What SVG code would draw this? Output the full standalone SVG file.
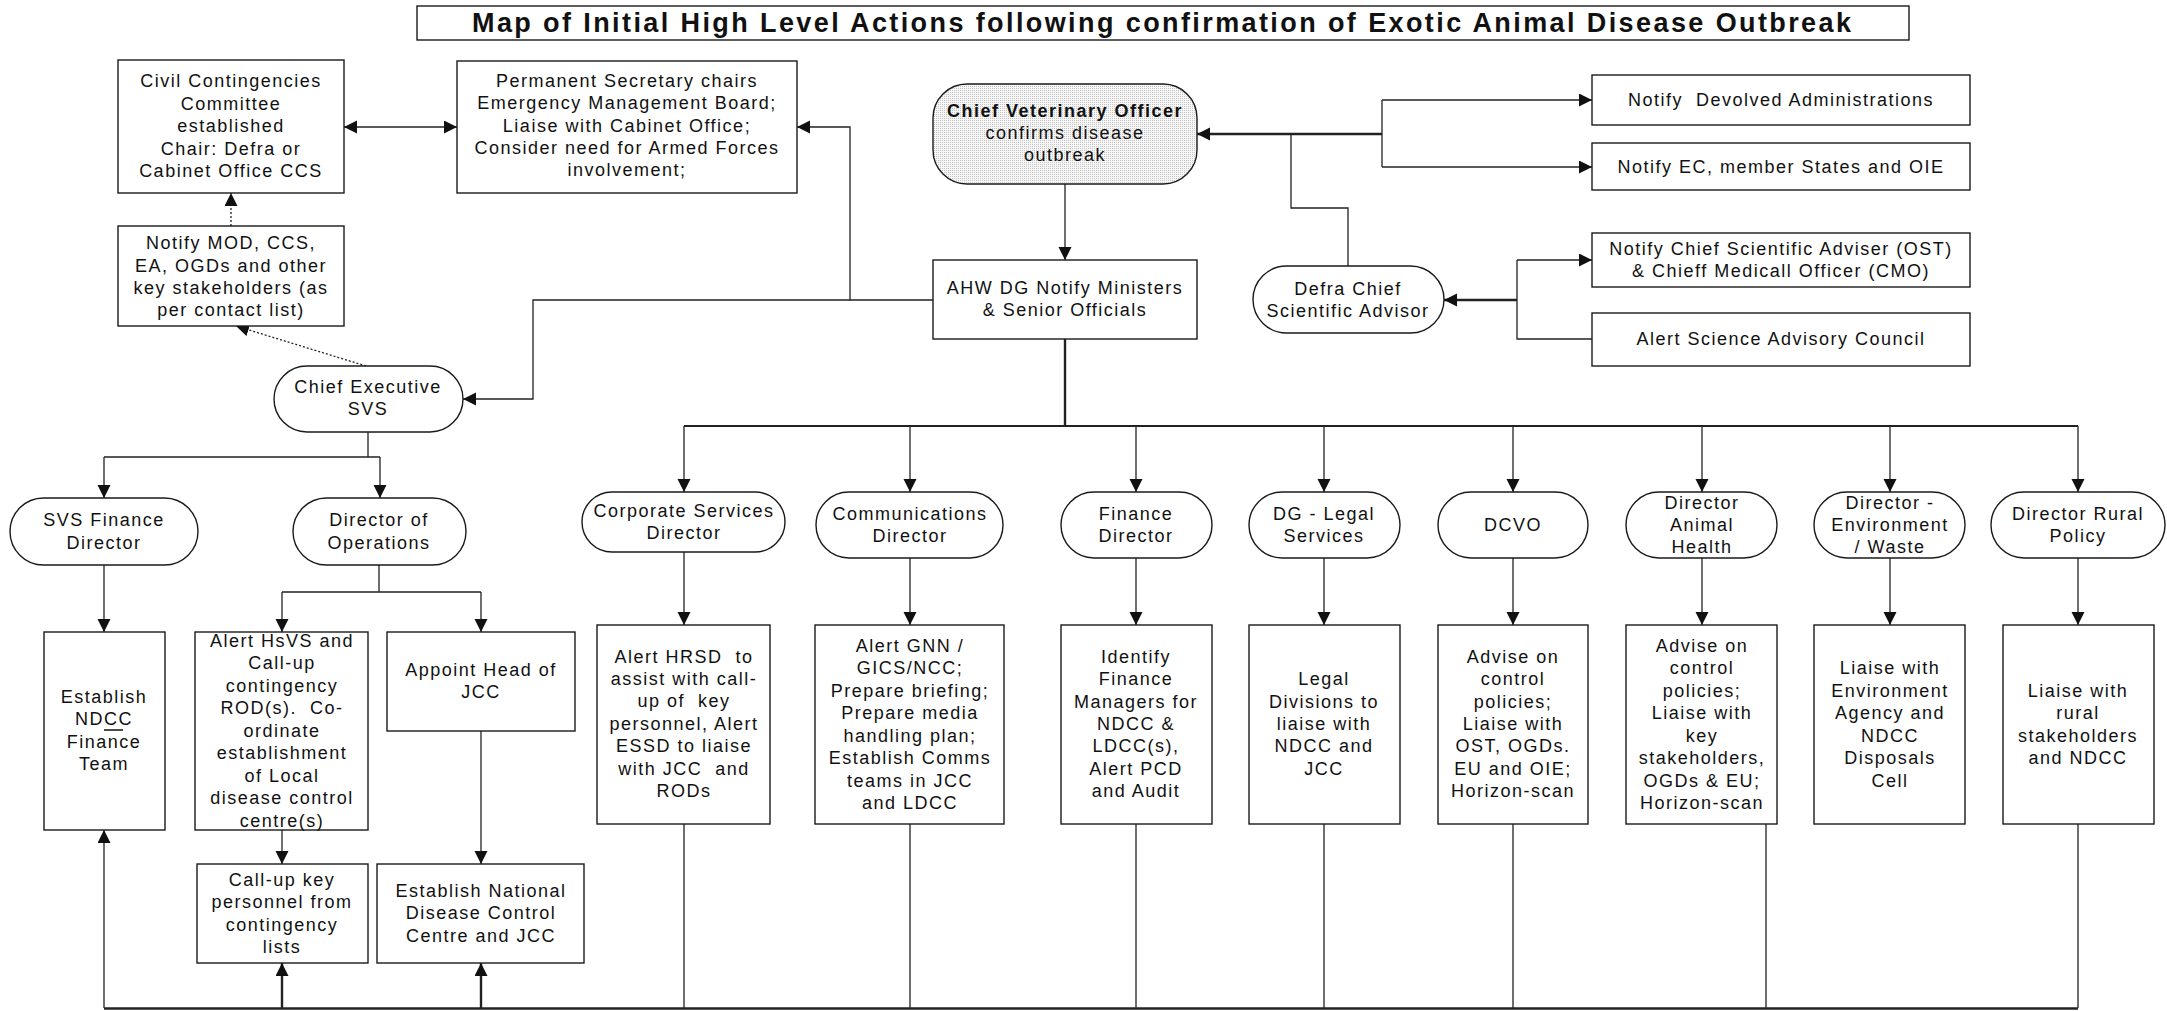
<svg xmlns="http://www.w3.org/2000/svg" width="2167" height="1011" viewBox="0 0 2167 1011">
<style>
.box{fill:#fff;stroke:#1a1a1a;stroke-width:1.4}
.t{font-family:"Liberation Sans",Arial,sans-serif;font-size:18px;letter-spacing:1.5px;fill:#111;text-anchor:middle}
.c{fill:none;stroke:#222;stroke-width:1.3}
.k{stroke-width:2.4}
.d{stroke-dasharray:2 2}
.a{marker-end:url(#ah)}
</style>
<defs>
<marker id="ah" markerWidth="14" markerHeight="14" refX="13" refY="6.5" orient="auto-start-reverse" markerUnits="userSpaceOnUse"><path d="M0,0 L13,6.5 L0,13 z" fill="#111"/></marker>
<pattern id="dots" width="2" height="2" patternUnits="userSpaceOnUse"><rect width="2" height="2" fill="#f7f7f7"/><rect width="1" height="1" fill="#c4c4c4"/></pattern>
</defs>
<rect width="2167" height="1011" fill="#fff"/>

<g id="title"><rect class="box" x="417" y="6" width="1492" height="34"/><text x="472" y="32" style="font-family:'Liberation Sans',Arial,sans-serif;font-size:27px;font-weight:bold;fill:#111" textLength="1379" lengthAdjust="spacing">Map of Initial High Level Actions following confirmation of Exotic Animal Disease Outbreak</text></g>

<g id="connectors">
<path class="c" d="M344,127 L457,127" marker-start="url(#ah)" marker-end="url(#ah)"/>
<path class="c a" d="M933,300 L850,300 L850,127 L797,127"/>
<path class="c a" d="M850,300 L533,300 L533,399 L463,399"/>
<path class="c a" d="M1065,184 L1065,260"/>
<path class="c k a" d="M1382,134 L1197,134"/>
<path class="c" d="M1382,100 L1382,167"/>
<path class="c a" d="M1382,100 L1592,100"/>
<path class="c a" d="M1382,167 L1592,167"/>
<path class="c" d="M1348,266 L1348,208 L1291,208 L1291,134"/>
<path class="c k a" d="M1517,300 L1444,300"/>
<path class="c" d="M1517,260 L1517,339 L1592,339"/>
<path class="c a" d="M1517,260 L1592,260"/>
<path class="c d a" d="M231,226 L231,193"/>
<path class="c d a" d="M366,366 L236,326"/>
<path class="c" d="M368,432 L368,457 M104,457 L380,457"/>
<path class="c a" d="M104,457 L104,498"/>
<path class="c a" d="M380,457 L380,498"/>
<path class="c a" d="M104,565 L104,632"/>
<path class="c" d="M379,565 L379,592 M282,592 L481,592"/>
<path class="c a" d="M282,592 L282,632"/>
<path class="c a" d="M481,592 L481,632"/>
<path class="c a" d="M282,830 L282,864"/>
<path class="c a" d="M481,731 L481,864"/>
<path class="c k" d="M1065,339 L1065,426"/>
<path class="c" style="stroke-width:2" d="M684,426 L2078,426"/>
<path class="c a" d="M684,426 L684,492"/>
<path class="c a" d="M910,426 L910,492"/>
<path class="c a" d="M1136,426 L1136,492"/>
<path class="c a" d="M1324,426 L1324,492"/>
<path class="c a" d="M1513,426 L1513,492"/>
<path class="c a" d="M1702,426 L1702,492"/>
<path class="c a" d="M1890,426 L1890,492"/>
<path class="c a" d="M2078,426 L2078,492"/>
<path class="c a" d="M684,552 L684,625"/>
<path class="c a" d="M910,558 L910,625"/>
<path class="c a" d="M1136,558 L1136,625"/>
<path class="c a" d="M1324,558 L1324,625"/>
<path class="c a" d="M1513,558 L1513,625"/>
<path class="c a" d="M1702,558 L1702,625"/>
<path class="c a" d="M1890,558 L1890,625"/>
<path class="c a" d="M2078,558 L2078,625"/>
<path class="c" d="M684,824 L684,1008 M910,824 L910,1008 M1136,824 L1136,1008 M1324,824 L1324,1008 M1513,824 L1513,1008 M1766,770 L1766,1008 M2078,824 L2078,1008"/>
<path class="c" style="stroke-width:2.6" d="M104,1008.5 L2078,1008.5"/>
<path class="c a" d="M104,1008 L104,830"/>
<path class="c k a" d="M282,1008 L282,963"/>
<path class="c k a" d="M481,1008 L481,963"/>
</g>

<g id="civil"><rect class="box" x="118" y="60" width="226" height="133"/><text class="t"><tspan x="231" y="87">Civil Contingencies</tspan><tspan x="231" y="110">Committee</tspan><tspan x="231" y="132">established</tspan><tspan x="231" y="155">Chair: Defra or</tspan><tspan x="231" y="177">Cabinet Office CCS</tspan></text></g>

<g id="permsec"><rect class="box" x="457" y="61" width="340" height="132"/><text class="t"><tspan x="627" y="87">Permanent Secretary chairs</tspan><tspan x="627" y="109">Emergency Management Board;</tspan><tspan x="627" y="132">Liaise with Cabinet Office;</tspan><tspan x="627" y="154">Consider need for Armed Forces</tspan><tspan x="627" y="176">involvement;</tspan></text></g>

<g id="notifymod"><rect class="box" x="118" y="226" width="226" height="100"/><text class="t"><tspan x="231" y="249">Notify MOD, CCS,</tspan><tspan x="231" y="272">EA, OGDs and other</tspan><tspan x="231" y="294">key stakeholders (as</tspan><tspan x="231" y="316">per contact list)</tspan></text></g>

<g id="chiefexec"><rect class="box" x="274" y="366" width="189" height="66" rx="33"/><text class="t"><tspan x="368" y="393">Chief Executive</tspan><tspan x="368" y="415">SVS</tspan></text></g>

<g id="cvo"><rect x="933" y="84" width="264" height="100" rx="34" fill="url(#dots)" stroke="#1a1a1a" stroke-width="1.4"/><text class="t"><tspan x="1065" y="117" font-weight="bold">Chief Veterinary Officer</tspan><tspan x="1065" y="139">confirms disease</tspan><tspan x="1065" y="161">outbreak</tspan></text></g>

<g id="ahwdg"><rect class="box" x="933" y="260" width="264" height="79"/><text class="t"><tspan x="1065" y="294">AHW DG Notify Ministers</tspan><tspan x="1065" y="316">&amp; Senior Officials</tspan></text></g>

<g id="devolved"><rect class="box" x="1592" y="75" width="378" height="50"/><text class="t" x="1781" y="106" xml:space="preserve">Notify  Devolved Administrations</text></g>
<g id="ec"><rect class="box" x="1592" y="143" width="378" height="47"/><text class="t" x="1781" y="173">Notify EC, member States and OIE</text></g>
<g id="csa"><rect class="box" x="1592" y="233" width="378" height="54"/><text class="t"><tspan x="1781" y="255">Notify Chief Scientific Adviser (OST)</tspan><tspan x="1781" y="277">&amp; Chieff Medicall Officer (CMO)</tspan></text></g>
<g id="sac"><rect class="box" x="1592" y="313" width="378" height="53"/><text class="t" x="1781" y="345">Alert Science Advisory Council</text></g>
<g id="defra"><rect class="box" x="1253" y="266" width="191" height="67" rx="33.5"/><text class="t"><tspan x="1348" y="295">Defra Chief</tspan><tspan x="1348" y="317">Scientific Advisor</tspan></text></g>

<g id="svsfin"><rect class="box" x="10" y="498" width="188" height="67" rx="33.5"/><text class="t"><tspan x="104" y="526">SVS Finance</tspan><tspan x="104" y="549">Director</tspan></text></g>
<g id="dirops"><rect class="box" x="293" y="498" width="173" height="67" rx="33.5"/><text class="t"><tspan x="379" y="526">Director of</tspan><tspan x="379" y="549">Operations</tspan></text></g>
<g id="ndccfin"><rect class="box" x="44" y="632" width="121" height="198"/><text class="t"><tspan x="104" y="703">Establish</tspan><tspan x="104" y="725">NDCC</tspan><tspan x="104" y="748">Finance</tspan><tspan x="104" y="770">Team</tspan></text><line x1="104" y1="730" x2="123" y2="730" stroke="#111" stroke-width="1.5"/></g>
<g id="alerthsvs"><rect class="box" x="195" y="632" width="173" height="198"/><text class="t" xml:space="preserve"><tspan x="282" y="647">Alert HsVS and</tspan><tspan x="282" y="669">Call-up</tspan><tspan x="282" y="692">contingency</tspan><tspan x="282" y="714">ROD(s).  Co-</tspan><tspan x="282" y="737">ordinate</tspan><tspan x="282" y="759">establishment</tspan><tspan x="282" y="782">of Local</tspan><tspan x="282" y="804">disease control</tspan><tspan x="282" y="827">centre(s)</tspan></text></g>
<g id="appoint"><rect class="box" x="387" y="632" width="188" height="99"/><text class="t"><tspan x="481" y="676">Appoint Head of</tspan><tspan x="481" y="698">JCC</tspan></text></g>
<g id="callup"><rect class="box" x="197" y="864" width="171" height="99"/><text class="t"><tspan x="282" y="886">Call-up key</tspan><tspan x="282" y="908">personnel from</tspan><tspan x="282" y="931">contingency</tspan><tspan x="282" y="953">lists</tspan></text></g>
<g id="estnational"><rect class="box" x="377" y="864" width="207" height="99"/><text class="t"><tspan x="481" y="897">Establish National</tspan><tspan x="481" y="919">Disease Control</tspan><tspan x="481" y="942">Centre and JCC</tspan></text></g>

<g id="corpdir"><rect class="box" x="582" y="492" width="203" height="60" rx="30"/><text class="t"><tspan x="684" y="517">Corporate Services</tspan><tspan x="684" y="539">Director</tspan></text></g>
<g id="commsdir"><rect class="box" x="816" y="492" width="187" height="66" rx="33"/><text class="t"><tspan x="910" y="520">Communications</tspan><tspan x="910" y="542">Director</tspan></text></g>
<g id="findir"><rect class="box" x="1061" y="492" width="151" height="66" rx="33"/><text class="t"><tspan x="1136" y="520">Finance</tspan><tspan x="1136" y="542">Director</tspan></text></g>
<g id="legaldir"><rect class="box" x="1249" y="492" width="151" height="66" rx="33"/><text class="t"><tspan x="1324" y="520">DG - Legal</tspan><tspan x="1324" y="542">Services</tspan></text></g>
<g id="dcvo"><rect class="box" x="1438" y="492" width="150" height="66" rx="33"/><text class="t" x="1513" y="531">DCVO</text></g>
<g id="ahdir"><rect class="box" x="1626" y="492" width="151" height="66" rx="33"/><text class="t"><tspan x="1702" y="509">Director</tspan><tspan x="1702" y="531">Animal</tspan><tspan x="1702" y="553">Health</tspan></text></g>
<g id="envdir"><rect class="box" x="1814" y="492" width="151" height="66" rx="33"/><text class="t"><tspan x="1890" y="509">Director -</tspan><tspan x="1890" y="531">Environment</tspan><tspan x="1890" y="553">/ Waste</tspan></text></g>
<g id="ruraldir"><rect class="box" x="1991" y="492" width="174" height="66" rx="33"/><text class="t"><tspan x="2078" y="520">Director Rural</tspan><tspan x="2078" y="542">Policy</tspan></text></g>

<g id="corpact"><rect class="box" x="597" y="625" width="173" height="199"/><text class="t" xml:space="preserve"><tspan x="684" y="663">Alert HRSD  to</tspan><tspan x="684" y="685">assist with call-</tspan><tspan x="684" y="707">up of  key</tspan><tspan x="684" y="730">personnel, Alert</tspan><tspan x="684" y="752">ESSD to liaise</tspan><tspan x="684" y="775">with JCC  and</tspan><tspan x="684" y="797">RODs</tspan></text></g>
<g id="commsact"><rect class="box" x="815" y="625" width="189" height="199"/><text class="t"><tspan x="910" y="652">Alert GNN /</tspan><tspan x="910" y="674">GICS/NCC;</tspan><tspan x="910" y="697">Prepare briefing;</tspan><tspan x="910" y="719">Prepare media</tspan><tspan x="910" y="742">handling plan;</tspan><tspan x="910" y="764">Establish Comms</tspan><tspan x="910" y="787">teams in JCC</tspan><tspan x="910" y="809">and LDCC</tspan></text></g>
<g id="finact"><rect class="box" x="1061" y="625" width="151" height="199"/><text class="t"><tspan x="1136" y="663">Identify</tspan><tspan x="1136" y="685">Finance</tspan><tspan x="1136" y="708">Managers for</tspan><tspan x="1136" y="730">NDCC &amp;</tspan><tspan x="1136" y="752">LDCC(s),</tspan><tspan x="1136" y="775">Alert PCD</tspan><tspan x="1136" y="797">and Audit</tspan></text></g>
<g id="legalact"><rect class="box" x="1249" y="625" width="151" height="199"/><text class="t"><tspan x="1324" y="685">Legal</tspan><tspan x="1324" y="708">Divisions to</tspan><tspan x="1324" y="730">liaise with</tspan><tspan x="1324" y="752">NDCC and</tspan><tspan x="1324" y="775">JCC</tspan></text></g>
<g id="dcvoact"><rect class="box" x="1438" y="625" width="150" height="199"/><text class="t"><tspan x="1513" y="663">Advise on</tspan><tspan x="1513" y="685">control</tspan><tspan x="1513" y="708">policies;</tspan><tspan x="1513" y="730">Liaise with</tspan><tspan x="1513" y="752">OST, OGDs.</tspan><tspan x="1513" y="775">EU and OIE;</tspan><tspan x="1513" y="797">Horizon-scan</tspan></text></g>
<g id="ahact"><rect class="box" x="1626" y="625" width="151" height="199"/><text class="t"><tspan x="1702" y="652">Advise on</tspan><tspan x="1702" y="674">control</tspan><tspan x="1702" y="697">policies;</tspan><tspan x="1702" y="719">Liaise with</tspan><tspan x="1702" y="742">key</tspan><tspan x="1702" y="764">stakeholders,</tspan><tspan x="1702" y="787">OGDs &amp; EU;</tspan><tspan x="1702" y="809">Horizon-scan</tspan></text></g>
<g id="envact"><rect class="box" x="1814" y="625" width="151" height="199"/><text class="t"><tspan x="1890" y="674">Liaise with</tspan><tspan x="1890" y="697">Environment</tspan><tspan x="1890" y="719">Agency and</tspan><tspan x="1890" y="742">NDCC</tspan><tspan x="1890" y="764">Disposals</tspan><tspan x="1890" y="787">Cell</tspan></text></g>
<g id="ruralact"><rect class="box" x="2003" y="625" width="151" height="199"/><text class="t"><tspan x="2078" y="697">Liaise with</tspan><tspan x="2078" y="719">rural</tspan><tspan x="2078" y="742">stakeholders</tspan><tspan x="2078" y="764">and NDCC</tspan></text></g>
</svg>
